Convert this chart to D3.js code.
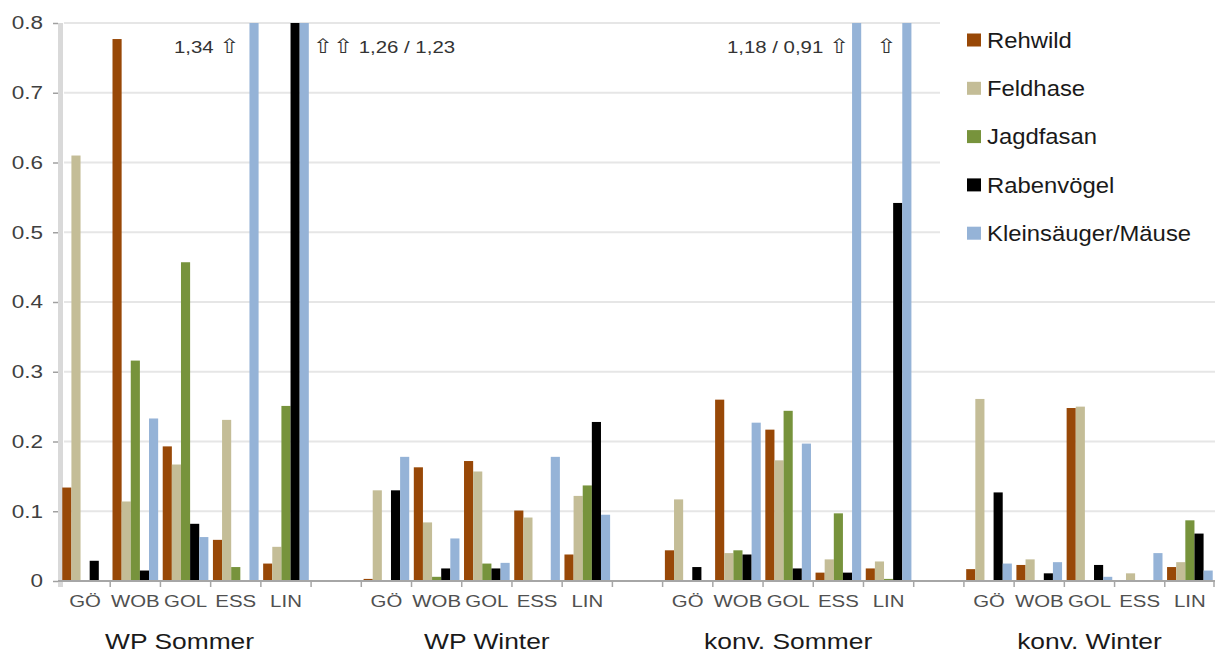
<!DOCTYPE html>
<html>
<head>
<meta charset="utf-8">
<script src="https://cdn.jsdelivr.net/npm/d3@7/dist/d3.min.js"></script>
<style>
  html, body { margin: 0; padding: 0; background: #fff; }
  svg { display: block; font-family: "Liberation Sans", Arial, sans-serif; }
</style>
</head>
<body>
<svg id="chart" width="1215" height="654"></svg>
<script>
// ---------- data ----------
const seasons = ["WP Sommer", "WP Winter", "konv. Sommer", "konv. Winter"];
const sites = ["GÖ", "WOB", "GOL", "ESS", "LIN"];
const seriesNames = ["Rehwild", "Feldhase", "Jagdfasan", "Rabenvögel", "Kleinsäuger/Mäuse"];
const seriesColors = ["#984807", "#C4BD97", "#77933C", "#000000", "#95B3D7"];

// values ordered season-major: WP Sommer (GÖ..LIN), WP Winter, konv. Sommer, konv. Winter
const rehwild    = [0.134, 0.777, 0.193, 0.059, 0.025,  0.003, 0.163, 0.172, 0.101, 0.038,  0.044, 0.260, 0.217, 0.012, 0.018,  0.017, 0.023, 0.248, 0.000, 0.020];
const feldhase   = [0.610, 0.114, 0.167, 0.231, 0.049,  0.130, 0.084, 0.157, 0.091, 0.122,  0.117, 0.040, 0.173, 0.031, 0.028,  0.261, 0.031, 0.250, 0.011, 0.027];
const jagdfasan  = [0.000, 0.316, 0.457, 0.020, 0.251,  0.000, 0.006, 0.025, 0.000, 0.137,  0.000, 0.044, 0.244, 0.097, 0.003,  0.000, 0.000, 0.000, 0.000, 0.087];
const rabenvoegel= [0.029, 0.015, 0.082, 0.000, 1.260,  0.130, 0.018, 0.018, 0.000, 0.228,  0.020, 0.038, 0.018, 0.012, 0.542,  0.127, 0.011, 0.023, 0.000, 0.068];
const kleinsaeuger=[0.000, 0.233, 0.063, 1.340, 1.230,  0.178, 0.061, 0.026, 0.178, 0.095,  0.000, 0.227, 0.197, 1.180, 0.910,  0.025, 0.027, 0.006, 0.040, 0.015];
const seriesValues = [rehwild, feldhase, jagdfasan, rabenvoegel, kleinsaeuger];

const yTicks = [0, 0.1, 0.2, 0.3, 0.4, 0.5, 0.6, 0.7, 0.8];
const yMax = 0.8;

// annotations for clipped bars: [season index, site, series index, text]
const annotations = [
  [0, "ESS", 4, "1,34 \u21E7"],
  [0, "LIN", 4, "\u21E7\u21E7 1,26 / 1,23"],
  [2, "ESS", 4, "1,18 / 0,91 \u21E7"],
  [2, "LIN", 4, "\u21E7"]
];

// ---------- layout ----------
const svg = d3.select("#chart");
const mLeft = 60, mRight = 1215, mTop = 23, mBottom = 581;
const font = "\"Liberation Sans\", Arial, sans-serif";
const arrowFont = "\"DejaVu Sans\", sans-serif";

// category slots: 5 sites per season with an empty slot between seasons
const slots = [];
seasons.forEach((s, si) => {
  if (si > 0) slots.push({ key: "gap" + si, season: null, site: null });
  sites.forEach(site => slots.push({ key: si + "|" + site, season: si, site: site }));
});

const x0 = d3.scaleBand().domain(slots.map(d => d.key)).range([mLeft, mRight]).padding(0);
const x1 = d3.scaleBand().domain(seriesNames).range([0, x0.bandwidth()]).paddingInner(0).paddingOuter(0.25);
const y = d3.scaleLinear().domain([0, yMax]).range([mBottom, mTop]).clamp(true);

// gridlines
svg.append("g").selectAll("line").data(yTicks.filter(t => t > 0)).join("line")
  .attr("x1", mLeft + 4).attr("x2", mRight)
  .attr("y1", d => y(d)).attr("y2", d => y(d))
  .attr("stroke", "#e6e6e6").attr("stroke-width", 2);

// y-axis band
svg.append("rect").attr("x", 58).attr("y", mTop).attr("width", 5).attr("height", mBottom - mTop + 6)
  .attr("fill", "#d9d9d9");

// y axis
const yAxis = d3.axisLeft(y).tickValues(yTicks).tickSize(5).tickPadding(7)
  .tickFormat(d => d === 0 ? "0" : d3.format(".1f")(d));
const gy = svg.append("g").attr("transform", `translate(58,0)`).call(yAxis);
gy.select(".domain").remove();
gy.selectAll(".tick line").attr("stroke", "#a0a0a0").attr("stroke-width", 1.5);
gy.selectAll(".tick text").attr("font-family", font).attr("font-size", 18).attr("fill", "#404040")
  .attr("transform", "scale(1.25,1)");

// bars
const barData = [];
slots.forEach(slot => {
  if (slot.season === null) return;
  const idx = slot.season * sites.length + sites.indexOf(slot.site);
  seriesNames.forEach((name, k) => {
    barData.push({ slot: slot.key, series: name, color: seriesColors[k], value: seriesValues[k][idx] });
  });
});
svg.append("g").selectAll("rect").data(barData.filter(d => d.value > 0)).join("rect")
  .attr("x", d => x0(d.slot) + x1(d.series))
  .attr("width", x1.bandwidth())
  .attr("y", d => y(d.value))
  .attr("height", d => y(0) - y(d.value))
  .attr("fill", d => d.color);

// x axis
const xAxis = d3.axisBottom(x0).tickSize(0).tickFormat(k => {
  const s = slots.find(d => d.key === k);
  return s.site || "";
}).tickPadding(14);
const gx = svg.append("g").attr("transform", `translate(0,${mBottom})`).call(xAxis);
gx.select(".domain").attr("stroke", "#a6a6a6").attr("stroke-width", 2)
  .attr("d", `M${mLeft - 2},0H${mRight}`);
gx.selectAll(".tick text").attr("font-family", font).attr("font-size", 17).attr("fill", "#505050")
  .attr("transform", "scale(1.2,1)");
// boundary ticks
const boundaries = slots.map(d => x0(d.key)).concat([mRight - 1]);
svg.append("g").selectAll("line").data(boundaries.slice(1)).join("line")
  .attr("x1", d => d).attr("x2", d => d)
  .attr("y1", mBottom).attr("y2", mBottom + 6)
  .attr("stroke", "#a6a6a6").attr("stroke-width", 1.5);

// season labels
seasons.forEach((s, si) => {
  const first = x0(si + "|" + sites[0]);
  const last = x0(si + "|" + sites[sites.length - 1]) + x0.bandwidth();
  const cx = (first + last) / 2 - (si === 0 ? 6 : 0);
  svg.append("text").attr("transform", `translate(${cx},649) scale(1.2,1)`)
    .attr("text-anchor", "middle").attr("font-family", font).attr("font-size", 22)
    .attr("fill", "#1a1a1a").text(s);
});

// annotations (arrows set in DejaVu Sans as outline glyphs)
const annoOffsets = [[-10, "end"], [4, "start"], [-3, "end"], [-6, "end"]];
annotations.forEach((a, i) => {
  const [si, site, k, txt] = a;
  const bx = x0(si + "|" + site) + x1(seriesNames[k]);
  const [dx, anchor] = annoOffsets[i];
  const xx = anchor === "end" ? bx + dx : bx + x1.bandwidth() + dx;
  const t = svg.append("text").attr("transform", `translate(${xx},53) scale(1.2,1)`).attr("text-anchor", anchor)
    .attr("font-family", font).attr("font-size", 17).attr("fill", "#333");
  Array.from(txt).forEach(ch => {
    const sp = t.append("tspan").text(ch);
    if (ch === "\u21E7") sp.attr("font-family", arrowFont).attr("font-size", 20).attr("fill", "#333");
  });
});

// legend
const lg = svg.append("g");
lg.append("rect").attr("x", 940).attr("y", 8).attr("width", 275).attr("height", 255).attr("fill", "#fff");
seriesNames.forEach((name, k) => {
  const cy = 40 + k * 48.3;
  lg.append("rect").attr("x", 967).attr("y", cy - 6.5).attr("width", 14).attr("height", 13).attr("fill", seriesColors[k]);
  lg.append("text").attr("transform", `translate(987,${cy}) scale(1.06,1)`).attr("dy", "0.35em")
    .attr("font-family", font).attr("font-size", 22.5).attr("fill", "#1a1a1a").text(name);
});
</script>
</body>
</html>
